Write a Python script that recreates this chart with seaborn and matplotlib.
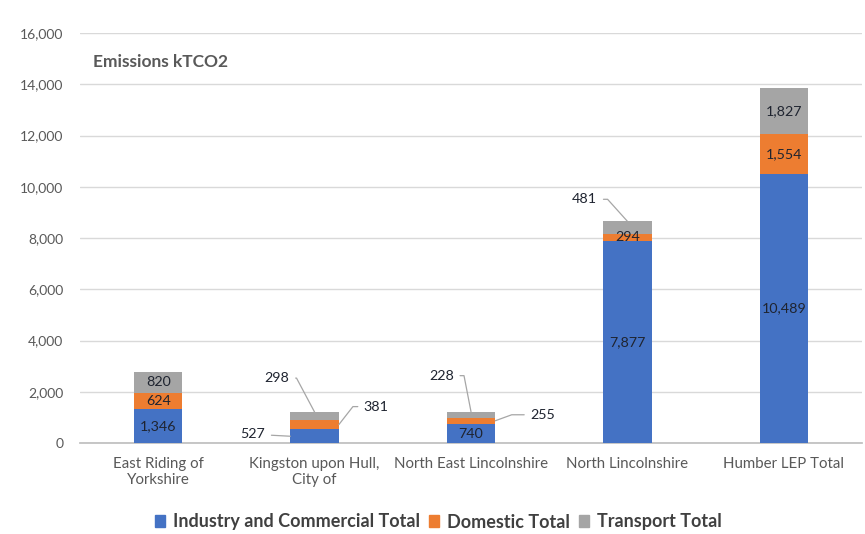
import matplotlib
matplotlib.use("Agg")
import matplotlib.pyplot as plt
import seaborn as sns
import pandas as pd
import numpy as np

categories = ["East Riding of\nYorkshire", "Kingston upon Hull,\nCity of",
              "North East Lincolnshire", "North Lincolnshire", "Humber LEP Total"]
industry = [1346, 527, 740, 7877, 10489]
domestic = [624, 381, 255, 294, 1554]
transport = [820, 298, 228, 481, 1827]
series_names = ["Industry and Commercial Total", "Domestic Total", "Transport Total"]
yticks = [0, 2000, 4000, 6000, 8000, 10000, 12000, 14000, 16000]

colors = ["#4472C4", "#ED7D31", "#A5A5A5"]
sns.set_theme(style="white")
plt.rcParams['font.family'] = ['Lato', 'DejaVu Sans']

df = pd.DataFrame({"cat": categories, "ind": industry, "dom": domestic, "tra": transport})
df["c1"] = df["ind"]
df["c2"] = df["ind"] + df["dom"]
df["c3"] = df["c2"] + df["tra"]

fig = plt.figure(figsize=(8.65, 5.34), dpi=100)
ax = fig.add_axes([80/865, 1-443/534, 782/865, 410/534])

bw = 0.31
for col, c, name in zip(["c3", "c2", "c1"], colors[::-1], series_names[::-1]):
    sns.barplot(data=df, x="cat", y=col, color=c, saturation=1, width=bw,
                linewidth=0, ax=ax, label=name, zorder=3)

ax.set_ylim(0, 16000)
ax.set_xlim(-0.5, 4.5)
ax.set_yticks(yticks)
ax.set_yticklabels([f"{v:,}" for v in yticks])
ax.yaxis.grid(True, color="#D9D9D9", lw=1)
ax.set_axisbelow(True)
for s in ["top", "right", "left"]:
    ax.spines[s].set_visible(False)
ax.spines["bottom"].set_color("#BFBFBF")
ax.set_xlabel("")
ax.set_ylabel("")
ax.tick_params(axis="both", length=0, labelsize=10, colors="#595959")
ax.tick_params(axis="x", labelsize=10.8, pad=10)
ax.tick_params(axis="y", pad=12)
if ax.legend_:
    ax.legend_.remove()

txtc = "#1f2430"
fs = 10.3
# inside labels
inside = {0: [0, 1, 2], 2: [0], 3: [0, 1], 4: [0, 1, 2]}
for i, segs in inside.items():
    lows = [0, industry[i], industry[i] + domestic[i]]
    vals = [industry[i], domestic[i], transport[i]]
    for s in segs:
        ax.text(i, lows[s] + vals[s] / 2, f"{vals[s]:,}", ha="center", va="center",
                fontsize=fs, color=txtc, zorder=5)

lc = "#A6A6A6"
def callout(i, xfrac, y, val, off, ha, conn):
    ax.annotate(f"{val:,}", xy=(i + xfrac, y), xytext=off, textcoords="offset pixels",
                ha=ha, va="center", fontsize=fs, color=txtc, zorder=6,
                arrowprops=dict(arrowstyle="-", color=lc, lw=0.9, shrinkA=2, shrinkB=0,
                                connectionstyle=conn))

# Kingston upon Hull
callout(1, -bw/2, industry[1]/2, industry[1], (-25, 2), "right", "arc3")
callout(1, bw/2, industry[1] + domestic[1]/2, domestic[1], (25, 18), "left",
        "angle,angleA=0,angleB=52,rad=0")
callout(1, 0, industry[1] + domestic[1] + transport[1], transport[1], (-25, 34), "right",
        "angle,angleA=0,angleB=118,rad=0")
# North East Lincolnshire
callout(2, bw/2, industry[2] + domestic[2]/2, domestic[2], (35, 6), "left",
        "angle,angleA=0,angleB=20,rad=0")
callout(2, 0, industry[2] + domestic[2] + transport[2], transport[2], (-17, 36), "right",
        "angle,angleA=0,angleB=101,rad=0")
# North Lincolnshire
callout(3, 0, industry[3] + domestic[3] + transport[3], transport[3], (-30, 22), "right",
        "angle,angleA=0,angleB=132,rad=0")

fig.text(93/865, 1-62/534, "Emissions kTCO2", fontsize=12.5, fontweight="bold",
         color="#595959", ha="left", va="center")

handles = [plt.Rectangle((0, 0), 1, 1, color=c) for c in colors]
fig.legend(handles, series_names, loc="center", bbox_to_anchor=(438/865, 1-522/534),
           ncol=3, frameon=False, handlelength=0.6, handleheight=0.6,
           handletextpad=0.4, columnspacing=0.5,
           prop={"size": 13, "weight": "bold"}, labelcolor="#404040")

fig.savefig("out.png", dpi=100)
